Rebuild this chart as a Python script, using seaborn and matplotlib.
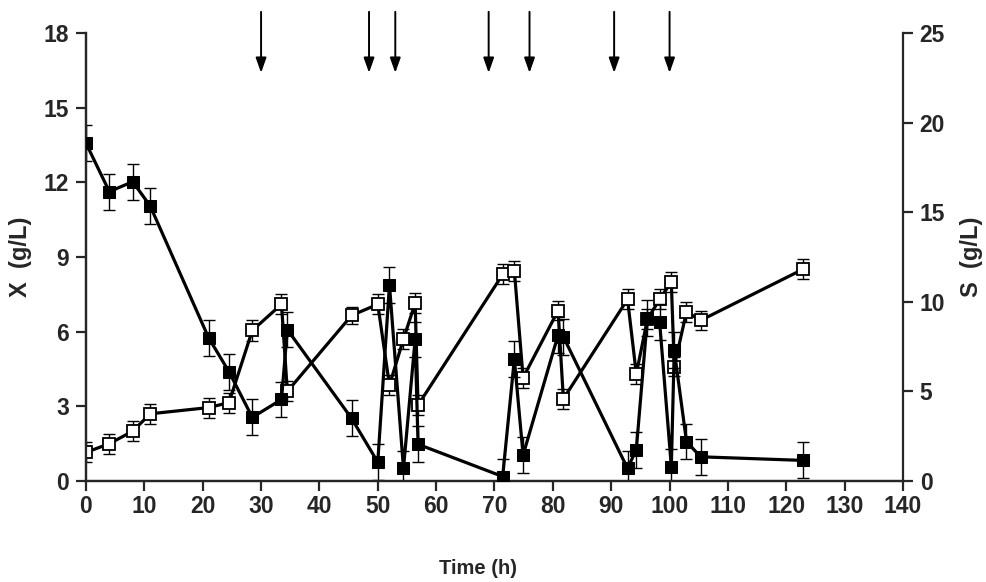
import numpy as np
import pandas as pd
import matplotlib
matplotlib.use("Agg")
import matplotlib.pyplot as plt
from matplotlib import font_manager
import seaborn as sns

# ── 데이터 ─────────────────────────────────────────────
time_h = [0, 4, 8, 11, 21, 24.5, 28.5, 33.5, 34.5, 45.5, 50, 52, 54.4, 56.4, 56.9,
          71.4, 73.4, 74.9, 80.9, 81.8, 92.8, 94.3, 96.2, 98.3, 100.3, 100.8,
          102.9, 105.3, 122.8]
X_gL = [1.15, 1.5, 2.0, 2.7, 2.95, 3.15, 6.05, 7.1, 3.6, 6.65, 7.1, 3.85, 5.7, 7.15, 3.05,
        8.3, 8.45, 4.15, 6.85, 3.3, 7.3, 4.3, 6.5, 7.3, 8.0, 4.6,
        6.8, 6.45, 8.5]
X_err = [0.4, 0.4, 0.4, 0.4, 0.4, 0.4, 0.42, 0.4, 0.4, 0.35, 0.4, 0.4, 0.4, 0.4, 0.4,
         0.4, 0.4, 0.4, 0.4, 0.4, 0.4, 0.4, 0.4, 0.4, 0.4, 0.4,
         0.4, 0.4, 0.4]
S_gL = [18.85, 16.15, 16.7, 15.35, 8.0, 6.1, 3.55, 4.55, 8.45, 3.5, 1.05, 10.95, 0.7, 7.9, 2.05,
        0.25, 6.8, 1.45, 8.15, 8.05, 0.7, 1.75, 9.1, 8.85, 0.8, 7.3,
        2.2, 1.35, 1.15]
S_err = [1.0, 1.0, 1.0, 1.0, 1.0, 1.0, 1.0, 1.0, 1.0, 1.0, 1.0, 1.0, 1.0, 1.0, 1.0,
         1.0, 1.0, 1.0, 1.0, 1.0, 1.0, 1.0, 1.0, 1.0, 1.0, 1.0,
         1.0, 1.0, 1.0]
feed_times = [30, 48.5, 53, 69, 76, 90.5, 100]

x_ticks = list(range(0, 141, 10))
x_ticks_left = [0, 3, 6, 9, 12, 15, 18]
s_ticks = [0, 5, 10, 15, 20, 25]

df = pd.DataFrame({"time": time_h, "X": X_gL, "S": S_gL})

# ── 스타일 ─────────────────────────────────────────────
sns.set_style("ticks")
installed = {f.name for f in font_manager.fontManager.ttflist}
narrow = "Liberation Sans Narrow" if "Liberation Sans Narrow" in installed else "Liberation Sans"
plt.rcParams["font.family"] = [narrow, "DejaVu Sans"]
plt.rcParams["font.weight"] = "bold"
tick_size = 18 if narrow == "Liberation Sans Narrow" else 16.5

fig = plt.figure(figsize=(9.87, 5.82), dpi=100)
ax = fig.add_axes([86 / 987, 1 - 481 / 582, 817 / 987, 448 / 582])
ax2 = ax.twinx()

# X (open squares)
ax.errorbar(df["time"], df["X"], yerr=X_err, fmt="none", ecolor="black",
            elinewidth=1, capsize=4, capthick=1, zorder=2)
sns.lineplot(data=df, x="time", y="X", ax=ax, color="black", lw=2.3,
             marker="s", markersize=8, markerfacecolor="white",
             markeredgecolor="black", markeredgewidth=1.3,
             estimator=None, sort=False, zorder=3)

# S (filled squares)
ax2.errorbar(df["time"], df["S"], yerr=S_err, fmt="none", ecolor="black",
             elinewidth=1, capsize=4, capthick=1, zorder=2)
sns.lineplot(data=df, x="time", y="S", ax=ax2, color="black", lw=2.3,
             marker="s", markersize=8.5, markerfacecolor="black",
             markeredgecolor="black", estimator=None, sort=False, zorder=3)

# 축
ax.set_xlim(0, 140)
ax.set_ylim(0, 18)
ax2.set_ylim(0, 25)
ax.set_xticks(x_ticks)
ax.set_yticks(x_ticks_left)
ax2.set_yticks(s_ticks)

for a in (ax, ax2):
    a.spines["top"].set_visible(False)
    for sp in a.spines.values():
        sp.set_linewidth(1.6)
    a.tick_params(direction="out", length=7, width=1.6, labelsize=tick_size, pad=5)
    for lab in a.get_xticklabels() + a.get_yticklabels():
        lab.set_fontweight("bold")
ax.spines["right"].set_visible(False)
ax.tick_params(axis="x", pad=3)

ax.set_xlabel("Time (h)", fontsize=14.5, fontweight="bold",
              family=["Liberation Sans", "DejaVu Sans"])
ax.xaxis.set_label_coords(0.48, -0.175)
ax.set_ylabel("X  (g/L)", fontsize=17, fontweight="bold",
              family=["Liberation Sans", "DejaVu Sans"])
ax.yaxis.set_label_coords(-0.066, 0.5)
ax2.set_ylabel("S  (g/L)", fontsize=17, fontweight="bold",
               family=["Liberation Sans", "DejaVu Sans"], rotation=90)
ax2.yaxis.set_label_coords(1.07, 0.5)

# 공급 시점 화살표
for t in feed_times:
    ax.annotate("", xy=(t, 16.4), xytext=(t, 18.85), xycoords="data",
                arrowprops=dict(arrowstyle="-|>,head_length=0.9,head_width=0.32",
                                color="black", lw=1.4, mutation_scale=10,
                                shrinkA=0, shrinkB=0),
                annotation_clip=False)

fig.savefig("out.png", dpi=100)
